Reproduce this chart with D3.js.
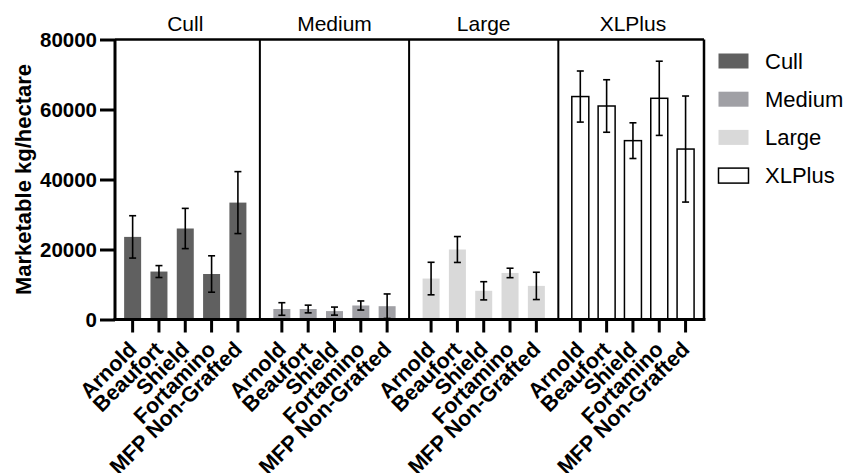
<!DOCTYPE html>
<html><head><meta charset="utf-8">
<script src="https://cdn.jsdelivr.net/npm/d3@7"></script>
<style>body{margin:0;background:#fff}svg{display:block}text{font-family:"Liberation Sans",Arial,sans-serif}</style>
</head><body>
<script>
const groups = ["Cull","Medium","Large","XLPlus"];
const cultivars = ["Arnold","Beaufort","Shield","Fortamino","MFP Non-Grafted"];
const cullMean   = [23600,13700,26000,13000,33400];
const cullErr    = [6050,1700,5750,5200,8850];
const mediumMean = [3000,3000,2400,4000,3800];
const mediumErr  = [1800,1100,1150,1300,3500];
const largeMean  = [11700,20000,8200,13300,9600];
const largeErr   = [4650,3700,2600,1350,3900];
const xlMean     = [63700,61000,51100,63200,48700];
const xlErr      = [7300,7500,5100,10600,15150];
const yTicks = [0,20000,40000,60000,80000];
const yTitle = "Marketable kg/hectare";

const means = [cullMean, mediumMean, largeMean, xlMean];
const errs = [cullErr, mediumErr, largeErr, xlErr];
const fills = ["#606060","#a0a0a5","#d9d9d9","#ffffff"];
const strokes = ["#606060","#a0a0a5","#d9d9d9","#000000"];

const W = 845, H = 473;
const svg = d3.select("body").append("svg").attr("width",W).attr("height",H);

const groupStep = 5.67; // slots between group starts
const x = d3.scaleLinear().domain([-0.67, 3*groupStep + 4 + 0.7]).range([115, 704]);
const y = d3.scaleLinear().domain([0, 80000]).range([319.5, 39.5]);
const barW = 17;

const data = [];
groups.forEach((g,gi)=>cultivars.forEach((c,ci)=>data.push({g,gi,c,ci,v:means[gi][ci],e:errs[gi][ci],slot:gi*groupStep+ci})));

// bars
svg.append("g").selectAll("rect").data(data).join("rect")
  .attr("x",d=>x(d.slot)-barW/2).attr("width",barW)
  .attr("y",d=>y(d.v)).attr("height",d=>y(0)-y(d.v))
  .attr("fill",d=>fills[d.gi]).attr("stroke",d=>strokes[d.gi]).attr("stroke-width",d=>d.gi===3?1.5:0);

// error bars
const eb = svg.append("g").attr("stroke","#000").attr("stroke-width",1.6).attr("fill","none");
data.forEach(d=>{
  const top=y(d.v+d.e), bot=y(Math.max(0,d.v-d.e)), cx=x(d.slot);
  eb.append("line").attr("x1",cx).attr("x2",cx).attr("y1",top).attr("y2",bot);
  eb.append("line").attr("x1",cx-3.5).attr("x2",cx+3.5).attr("y1",top).attr("y2",top);
  if (d.v-d.e>0) eb.append("line").attr("x1",cx-3.5).attr("x2",cx+3.5).attr("y1",bot).attr("y2",bot);
});

// panel frame and dividers
const left = x.range()[0], right = x.range()[1];
const frame = svg.append("g").attr("stroke","#000").attr("fill","none");
frame.append("line").attr("x1",left).attr("x2",right).attr("y1",y(80000)).attr("y2",y(80000)).attr("stroke-width",2.5);
frame.append("line").attr("x1",right).attr("x2",right).attr("y1",y(80000)).attr("y2",y(0)).attr("stroke-width",2.5);
for (let gi=1; gi<groups.length; gi++){
  const xd = x((gi-1)*groupStep + 4 + (groupStep-4)/2);
  frame.append("line").attr("x1",xd).attr("x2",xd).attr("y1",y(80000)).attr("y2",y(0)).attr("stroke-width",2);
}

// y axis
const yAxis = svg.append("g").attr("transform",`translate(${left},0)`)
  .call(d3.axisLeft(y).tickValues(yTicks).tickSize(15).tickPadding(3).tickFormat(d3.format("d")));
yAxis.select(".domain").attr("stroke-width",3).attr("d",`M0,${y(80000)}V${y(0)}`);
yAxis.selectAll(".tick line").attr("stroke-width",3);
yAxis.selectAll(".tick text").attr("font-size",20.5).attr("font-weight","bold").attr("fill","#000")
  .attr("font-family","Liberation Sans, Arial, sans-serif");

// x axis baseline
svg.append("line").attr("x1",left-1.5).attr("x2",right+1.5).attr("y1",y(0)).attr("y2",y(0)).attr("stroke","#000").attr("stroke-width",3);

// x ticks and labels
const xt = svg.append("g");
data.forEach(d=>{
  const cx = x(d.slot);
  xt.append("line").attr("x1",cx).attr("x2",cx).attr("y1",y(0)).attr("y2",y(0)+13).attr("stroke","#000").attr("stroke-width",3);
  xt.append("text").attr("transform",`translate(${cx},${y(0)+26}) rotate(-45)`)
    .attr("text-anchor","end").attr("dy","0.35em").attr("font-size",21.5).attr("font-weight","bold").text(d.c);
});

// panel titles
groups.forEach((g,gi)=>{
  svg.append("text").attr("x",x(gi*groupStep+2)).attr("y",30.5).attr("text-anchor","middle")
    .attr("font-size",21).text(g);
});

// y title
svg.append("text").attr("transform",`translate(31,${(y(0)+y(80000))/2}) rotate(-90)`)
  .attr("text-anchor","middle").attr("font-size",22).attr("font-weight","bold").text(yTitle);

// legend
const lg = svg.append("g");
groups.forEach((g,gi)=>{
  const cy = 61 + gi*38.2;
  lg.append("rect").attr("x",718.5).attr("y",cy-7.5).attr("width",30).attr("height",15)
    .attr("fill",fills[gi]).attr("stroke",strokes[gi]).attr("stroke-width",gi===3?1.5:0);
  lg.append("text").attr("x",765).attr("y",cy).attr("dy","0.35em").attr("font-size",22).text(g);
});
</script>
</body></html>
